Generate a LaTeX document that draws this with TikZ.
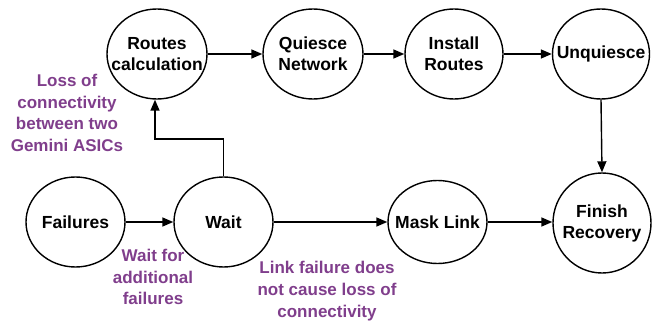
\documentclass[tikz,border=0pt]{standalone}
\usepackage{fontspec}
\setmainfont{Liberation Sans}
\usetikzlibrary{shapes.geometric,arrows.meta}
\definecolor{notecol}{RGB}{128,62,140}
\tikzset{
  state/.style={ellipse, draw=black, line width=1.4pt, inner sep=0pt},
  statetext/.style={inner sep=0pt, font=\bfseries\fontsize{17.5}{21}\selectfont, align=center},
  note/.style={text=notecol, font=\bfseries\fontsize{17}{21.7}\selectfont, align=center},
  flow/.style={line width=1.4pt, -{Triangle[length=11pt,width=9pt]}},
}
% an ellipse of fixed size with its caption centred inside
\newcommand{\statenode}[5]{%
  \node[state, minimum width=#3pt, minimum height=#4pt,
        label={[statetext]center:#5}] (#1) at (#2) {};}
\begin{document}
\begin{tikzpicture}[x=1pt,y=1pt]
\useasboundingbox (0,0) rectangle (652,-323);
% top row
\statenode{routes}{157,-54}{100}{90}{Routes\\calculation}
\statenode{quiesce}{313,-54}{100}{90}{Quiesce\\Network}
\statenode{install}{454,-54}{98}{90}{Install\\Routes}
\statenode{unq}{601,-54}{97}{90}{Unquiesce}
% bottom row
\statenode{fail}{75.5,-222}{99}{90}{Failures}
\statenode{wait}{223.5,-222}{99}{90}{Wait}
\statenode{mask}{437.5,-222}{99}{83}{Mask Link}
\statenode{finish}{602,-223}{98}{100}{Finish\\Recovery}
% annotations
\node[note] (n1) at (67,-113) {Loss of\\connectivity\\between two\\Gemini ASICs};
\node[note] (n2) at (153,-277) {Wait for\\additional\\failures};
\node[note] (n3) at (327,-291) {Link failure does\\not cause loss of\\connectivity};
% connectors
\coordinate (bend) at (155,-139);
\draw[flow] (routes) -- (quiesce);
\draw[flow] (quiesce) -- (install);
\draw[flow] (install) -- (unq);
\draw[flow] (unq.south) -- (finish.north);
\draw[flow] (fail) -- (wait);
\draw[flow] (wait.east) -- (mask.west);
\draw[flow] (mask.east) -- (finish.west |- mask.east);
\draw[flow] (wait.north) |- (bend) -- (routes.south -| bend);
\end{tikzpicture}
\end{document}
